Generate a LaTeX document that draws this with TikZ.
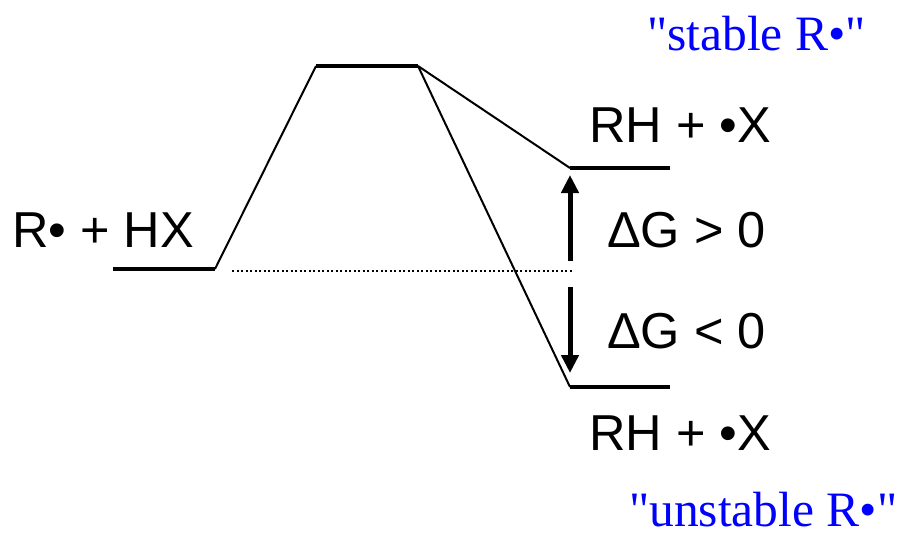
\documentclass[tikz,border=0pt]{standalone}
\usepackage{fontspec}
\setmainfont{Liberation Sans}
\newfontfamily\serifblue{Liberation Serif}
\usetikzlibrary{arrows.meta}
\definecolor{pureblue}{RGB}{0,0,255}
\tikzset{
  level/.style={line width=4.5pt},
  path/.style={line width=2pt},
  dg/.style={line width=5pt,-{Triangle[width=17pt,length=18pt]}},
  lbl/.style={inner sep=0pt,anchor=base west,font=\fontsize{50.5}{55}\selectfont},
  note/.style={inner sep=0pt,anchor=base west,text depth=0pt,text=pureblue,font=\serifblue\fontsize{49.5}{55}\selectfont},
}
\begin{document}
\begin{tikzpicture}[x=1pt,y=-1pt]
\useasboundingbox (0,0) rectangle (908,536);
% level end points
\coordinate (L1) at (113,269);
\coordinate (L2) at (215,269);
\coordinate (T1) at (316,66);
\coordinate (T2) at (418,66);
\coordinate (U1) at (570,168);
\coordinate (U2) at (670,168);
\coordinate (D1) at (570,387);
\coordinate (D2) at (670,387);
\coordinate (dot1) at (232,271);
\coordinate (dot2) at (572,271);
\coordinate (au1) at (570,261);
\coordinate (au2) at (570,175);
\coordinate (ad1) at (570,287);
\coordinate (ad2) at (570,373);
% levels
\draw[level] (L1) -- (L2);
\draw[level] (T1) -- (T2);
\draw[level] (U1) -- (U2);
\draw[level] (D1) -- (D2);
% reaction paths
\draw[path] (L2) -- (T1);
\draw[path] (T2) -- (U1);
\draw[path] (T2) -- (D1);
% reference dotted line
\draw[line width=1.5pt,dash pattern=on 2pt off 2.5pt] (dot1) -- (dot2);
% Delta G arrows
\draw[dg] (au1) -- (au2);
\draw[dg] (ad1) -- (ad2);
% labels
\node[lbl] (reac) at (12,247) {R• + HX};
\node[lbl] (produp) at (589,142) {RH + •X};
\node[lbl] (proddn) at (589,450) {RH + •X};
\node[lbl] (dgpos) at (607,247) {ΔG > 0};
\node[lbl] (dgneg) at (607,348) {ΔG < 0};
\node[note] (stable) at (647,50) {"stable R•"};
\node[note] (unstable) at (629,526) {"unstable R•"};
\end{tikzpicture}
\end{document}
